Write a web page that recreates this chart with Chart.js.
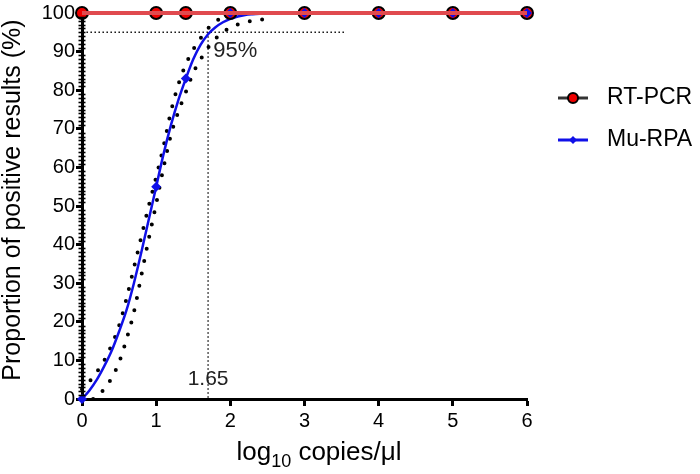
<!DOCTYPE html>
<html>
<head>
<meta charset="utf-8">
<script src="https://cdn.jsdelivr.net/npm/chart.js@4"></script>
<style>
  html, body { margin: 0; padding: 0; background: #fff; }
  #wrap { width: 700px; height: 474px; }
</style>
</head>
<body>
<div id="wrap"><canvas id="chart" width="700" height="474"></canvas></div>
<script>
const fontFam = '"Liberation Sans", Arial, Helvetica, sans-serif'
const rojo  = '#e04a4f'
const azul  = '#1010e8'
const negro = '#000'

// ── Data ──
const pcrX   = [0, 1, 1.4, 2, 3, 4, 5, 6]
const pcrY   = [100, 100, 100, 100, 100, 100, 100, 100]
const rpaX   = [0, 1, 1.4, 2, 3, 4, 5, 6]
const rpaY   = [0, 55, 83, 100, 100, 100, 100, 100]

// fitted curve + 95% band
const fitX   = [0, 0.1, 0.2, 0.3, 0.4, 0.5, 0.6, 0.7, 0.8, 0.9, 1.0, 1.1, 1.2, 1.3, 1.4, 1.5, 1.6, 1.7, 1.8, 1.9, 2.0, 2.1, 2.2, 2.3, 2.45]
const fitY   = [0, 2.2, 5, 8.5, 12.5, 17.5, 23, 30, 38, 46.5, 55, 63.5, 71, 77.5, 83, 88, 91.8, 94.5, 96.3, 97.6, 98.5, 99.1, 99.5, 99.7, 99.9]
const upX    = [0, 0.1, 0.2, 0.3, 0.4, 0.5, 0.6, 0.7, 0.8, 0.9, 1.0, 1.1, 1.2, 1.3, 1.4, 1.5, 1.6, 1.7, 1.8, 1.9, 2.0, 2.1]
const upY    = [2.5, 4.5, 7, 10, 14, 19, 26, 34, 42, 50, 57.5, 65.5, 74.5, 81.5, 86.7, 90.5, 93.5, 96, 97.8, 98.8, 99.4, 99.8]
const loX    = [0.15, 0.2, 0.3, 0.4, 0.5, 0.6, 0.7, 0.8, 0.9, 1.0, 1.1, 1.2, 1.3, 1.4, 1.5, 1.6, 1.7, 1.8, 1.9, 2.0, 2.1, 2.2, 2.3, 2.45]
const loY    = [0, 1, 2.5, 5.5, 9.5, 15.5, 22.5, 32, 41.5, 50.5, 60, 68.5, 74.5, 79.5, 84.5, 88, 91, 93.3, 95, 96.2, 97, 97.6, 98, 98.4]

// 95% cut-off guides
const guideHX = [0.06, 3.55]
const guideHY = [95, 95]
const guideVX = [1.7, 1.7]
const guideVY = [95, 0]

const xTicks = [0, 1, 2, 3, 4, 5, 6]
const yTicks = [0, 10, 20, 30, 40, 50, 60, 70, 80, 90, 100]

const pts = (xs, ys) => xs.map((x, i) => ({ x: x, y: ys[i] }))

// ── Extra drawing: minor ticks, titles, legend, labels ──
const extras = {
  id: 'extras',
  afterDraw(chart) {
    const ctx = chart.ctx
    const xs = chart.scales.x, ys = chart.scales.y
    const left = chart.chartArea.left
    ctx.save()
    // y minor ticks every 1
    ctx.strokeStyle = negro
    ctx.lineWidth = 1.6
    for (let v = 0; v <= 100; v++) {
      if (v % 10 === 0) continue
      const py = Math.round(ys.getPixelForValue(v)) + 0.5
      ctx.beginPath()
      ctx.moveTo(left - 3.5, py)
      ctx.lineTo(left + 3.5, py)
      ctx.stroke()
    }
    // y title
    ctx.fillStyle = negro
    ctx.font = '25px ' + fontFam
    ctx.textAlign = 'center'
    ctx.textBaseline = 'middle'
    ctx.translate(13, 200)
    ctx.rotate(-Math.PI / 2)
    ctx.fillText('Proportion of positive results (%)', 0, 0)
    ctx.restore()

    // x title with subscript
    ctx.save()
    ctx.fillStyle = negro
    ctx.textBaseline = 'alphabetic'
    ctx.textAlign = 'left'
    const big = '26px ' + fontFam, small = '18px ' + fontFam
    ctx.font = big
    const w1 = ctx.measureText('log').width
    const w3 = ctx.measureText(' copies/μl').width
    ctx.font = small
    const w2 = ctx.measureText('10').width
    let tx = 319 - (w1 + w2 + w3) / 2
    const by = 460
    ctx.font = big
    ctx.fillText('log', tx, by)
    tx += w1
    ctx.font = small
    ctx.fillText('10', tx, by + 7)
    tx += w2
    ctx.font = big
    ctx.fillText(' copies/μl', tx, by)

    // guide labels
    ctx.font = '22px ' + fontFam
    ctx.fillStyle = '#222'
    ctx.textBaseline = 'middle'
    ctx.fillText('95%', xs.getPixelForValue(1.77), ys.getPixelForValue(90.3))
    ctx.textAlign = 'center'
    ctx.font = '21px ' + fontFam
    ctx.fillText('1.65', xs.getPixelForValue(1.7), ys.getPixelForValue(5.1))

    // legend
    const lx = 558, lw = 30
    const rows = [
      { y: 98, label: 'RT-PCR', line: '#333', lineW: 3 },
      { y: 140, label: 'Mu-RPA', line: azul, lineW: 3 }
    ]
    rows.forEach((r, i) => {
      ctx.strokeStyle = r.line
      ctx.lineWidth = r.lineW
      ctx.beginPath()
      ctx.moveTo(lx, r.y)
      ctx.lineTo(lx + lw, r.y)
      ctx.stroke()
      const cx = lx + lw / 2
      if (i === 0) {
        ctx.beginPath()
        ctx.arc(cx, r.y, 5, 0, Math.PI * 2)
        ctx.fillStyle = '#e00'
        ctx.fill()
        ctx.lineWidth = 2
        ctx.strokeStyle = negro
        ctx.stroke()
      } else {
        ctx.beginPath()
        ctx.moveTo(cx, r.y - 4)
        ctx.lineTo(cx + 4, r.y)
        ctx.lineTo(cx, r.y + 4)
        ctx.lineTo(cx - 4, r.y)
        ctx.closePath()
        ctx.fillStyle = azul
        ctx.fill()
      }
      ctx.fillStyle = negro
      ctx.font = '23px ' + fontFam
      ctx.textAlign = 'left'
      ctx.textBaseline = 'middle'
      ctx.fillText(r.label, 607, r.y)
    })
    ctx.restore()
  }
}

const dotted = {
  showLine: true,
  pointRadius: 0,
  borderColor: negro,
  borderWidth: 4,
  borderDash: [0, 12.5],
  borderCapStyle: 'round',
  cubicInterpolationMode: 'monotone',
  clip: false
}

new Chart(document.getElementById('chart'), {
  type: 'scatter',
  data: {
    datasets: [
      {
        label: 'RT-PCR line',
        data: pts(pcrX, pcrY),
        showLine: true,
        borderColor: rojo,
        borderWidth: 4,
        pointRadius: 0,
        clip: false,
        order: 0
      },
      {
        label: 'Mu-RPA',
        data: pts(rpaX, rpaY),
        pointStyle: 'rectRot',
        pointRadius: 5,
        backgroundColor: azul,
        borderColor: azul,
        borderWidth: 0,
        clip: false,
        order: 1
      },
      {
        label: 'RT-PCR',
        data: pts(pcrX, pcrY),
        pointStyle: 'circle',
        pointRadius: 6,
        backgroundColor: '#e00',
        borderColor: negro,
        borderWidth: 2,
        clip: false,
        order: 2
      },
      {
        label: 'Mu-RPA fit',
        data: pts(fitX, fitY),
        showLine: true,
        borderColor: azul,
        borderWidth: 2.5,
        pointRadius: 0,
        cubicInterpolationMode: 'monotone',
        clip: false,
        order: 3
      },
      Object.assign({ label: 'upper', data: pts(upX, upY), order: 4 }, dotted),
      Object.assign({ label: 'lower', data: pts(loX, loY), order: 5 }, dotted),
      {
        label: 'guide h',
        data: pts(guideHX, guideHY),
        showLine: true,
        borderColor: '#111',
        borderWidth: 1.4,
        borderDash: [1.5, 2.5],
        pointRadius: 0,
        order: 6
      },
      {
        label: 'guide v',
        data: pts(guideVX, guideVY),
        showLine: true,
        borderColor: '#111',
        borderWidth: 1.4,
        borderDash: [1.5, 2.5],
        pointRadius: 0,
        order: 7
      }
    ]
  },
  options: {
    responsive: false,
    animation: false,
    layout: { padding: { top: 10, right: 173, left: 0, bottom: 0 } },
    plugins: {
      legend: { display: false },
      tooltip: { enabled: false }
    },
    scales: {
      x: {
        type: 'linear',
        min: 0,
        max: 6,
        afterFit(s) { s.height = 75 },
        afterBuildTicks(s) { s.ticks = xTicks.map(v => ({ value: v })) },
        ticks: { color: negro, font: { size: 20, family: fontFam }, padding: 3 },
        border: { display: true, color: negro, width: 3 },
        grid: { drawOnChartArea: false, drawTicks: true, tickLength: 7, tickWidth: 3, tickColor: negro }
      },
      y: {
        min: 0,
        max: 100,
        afterFit(s) { s.width = 82 },
        afterBuildTicks(s) { s.ticks = yTicks.map(v => ({ value: v })) },
        ticks: { color: negro, font: { size: 20, family: fontFam }, padding: 1 },
        border: { display: true, color: negro, width: 3 },
        grid: { drawOnChartArea: false, drawTicks: true, tickLength: 6, tickWidth: 3, tickColor: negro }
      }
    }
  },
  plugins: [extras]
})
</script>
</body>
</html>
